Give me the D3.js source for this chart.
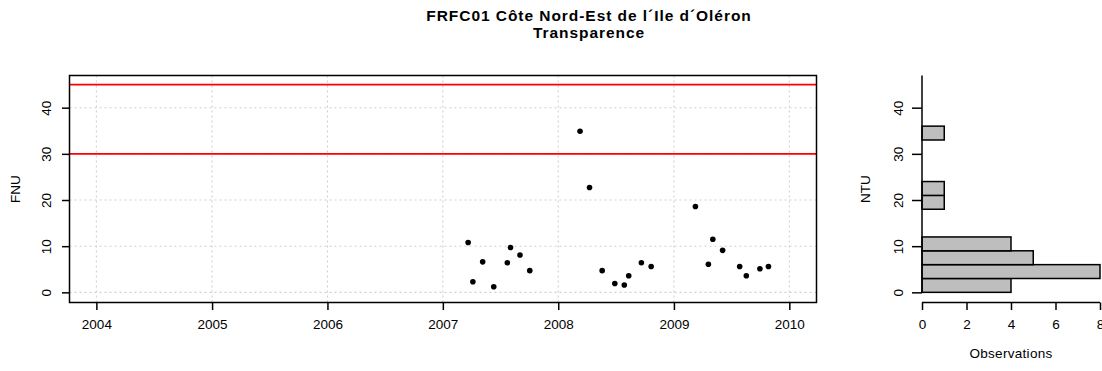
<!DOCTYPE html>
<html>
<head>
<meta charset="utf-8">
<script src="https://cdn.jsdelivr.net/npm/d3@7"></script>
<style>
  html, body { margin: 0; padding: 0; background: #fff; }
  svg { display: block; font-family: "Liberation Sans", Arial, Helvetica, sans-serif; }
</style>
</head>
<body>
<svg id="chart" width="1102" height="371"></svg>
<script>
// Turbidity samples (FNU) at FRFC01
const sampleDates = [
  "2007-03-22", "2007-04-06", "2007-05-07", "2007-06-11", "2007-07-24", "2007-08-03",
  "2007-09-02", "2007-10-03", "2008-03-10", "2008-04-09", "2008-05-19", "2008-06-28",
  "2008-07-28", "2008-08-11", "2008-09-20", "2008-10-21", "2009-03-10", "2009-04-20",
  "2009-05-04", "2009-06-04", "2009-07-28", "2009-08-18", "2009-09-30", "2009-10-27"
];
const sampleValues = [
  10.8, 2.3, 6.6, 1.2, 6.4, 9.7,
  8.1, 4.7, 34.9, 22.7, 4.7, 1.9,
  1.6, 3.6, 6.4, 5.6, 18.6, 6.1,
  11.5, 9.1, 5.6, 3.6, 5.1, 5.6
];
// Quality thresholds
const thresholdValues = [30, 45];
// Axis ticks
const yTickValues = [0, 10, 20, 30, 40];
const xTickYears = [2004, 2005, 2006, 2007, 2008, 2009, 2010];
const histTickValues = [0, 2, 4, 6, 8];
const histBinWidth = 3;

const titleLines = ["FRFC01 Côte Nord-Est de l´Ile d´Oléron", "Transparence"];

const svg = d3.select("#chart");
const parse = d3.utcParse("%Y-%m-%d");
const points = sampleDates.map((d, i) => ({ date: parse(d), value: sampleValues[i] }));

// Main panel geometry
const P = { left: 69.5, right: 816.5, top: 75.5, bottom: 302.5 };
const x = d3.scaleUtc()
  .domain([new Date(Date.UTC(2003, 9, 8)), new Date(Date.UTC(2010, 2, 28))])
  .range([P.left, P.right]);
const y = d3.scaleLinear().domain([-2.2, 46.97]).range([P.bottom, P.top]);

// Histogram panel geometry
const H = { left: 922, right: 1100 };
const hx = d3.scaleLinear().domain([0, 8]).range([H.left, H.right]);

const axisFont = 13.5;
const gridColor = "#d0d0d0";

// Title
svg.append("g").selectAll("text").data(titleLines).join("text")
  .attr("x", 589)
  .attr("y", (d, i) => 21 + i * 17)
  .attr("text-anchor", "middle")
  .attr("font-weight", "bold")
  .attr("font-size", 15.5)
  .attr("letter-spacing", 0.95)
  .text(d => d);

// ---- Main time series panel ----
const main = svg.append("g");

// dotted grid
main.append("g").selectAll("line").data(xTickYears).join("line")
  .attr("x1", d => x(new Date(Date.UTC(d, 0, 1)))).attr("x2", d => x(new Date(Date.UTC(d, 0, 1))))
  .attr("y1", P.top).attr("y2", P.bottom)
  .attr("stroke", gridColor).attr("stroke-width", 1.1).attr("stroke-dasharray", "2,3");
main.append("g").selectAll("line").data(yTickValues).join("line")
  .attr("x1", P.left).attr("x2", P.right)
  .attr("y1", d => y(d)).attr("y2", d => y(d))
  .attr("stroke", gridColor).attr("stroke-width", 1.1).attr("stroke-dasharray", "2,3");

// threshold lines
main.append("g").selectAll("line").data(thresholdValues).join("line")
  .attr("x1", P.left).attr("x2", P.right)
  .attr("y1", d => y(d)).attr("y2", d => y(d))
  .attr("stroke", "#ff0000").attr("stroke-width", 1.6);

// samples
main.append("g").selectAll("circle").data(points).join("circle")
  .attr("cx", d => x(d.date)).attr("cy", d => y(d.value))
  .attr("r", 2.8).attr("fill", "#000");

// frame
main.append("rect")
  .attr("x", P.left).attr("y", P.top)
  .attr("width", P.right - P.left).attr("height", P.bottom - P.top)
  .attr("fill", "none").attr("stroke", "#000").attr("stroke-width", 1.5);

// x axis
const xAxis = d3.axisBottom(x)
  .tickValues(xTickYears.map(d => new Date(Date.UTC(d, 0, 1))))
  .tickFormat(d3.utcFormat("%Y"))
  .tickSizeInner(7.5).tickSizeOuter(0).tickPadding(9);
const gx = main.append("g").attr("transform", `translate(0,${P.bottom})`).call(xAxis);
gx.select(".domain").remove();
gx.selectAll(".tick line").attr("stroke", "#000").attr("stroke-width", 1.5);
gx.selectAll(".tick text").attr("font-size", axisFont).attr("font-family", null).attr("fill", "#000");

// y axis
const yAxis = d3.axisLeft(y).tickValues(yTickValues).tickSizeInner(7.5).tickSizeOuter(0).tickFormat(d3.format("d"));
const gy = main.append("g").attr("transform", `translate(${P.left},0)`).call(yAxis);
gy.select(".domain").remove();
gy.selectAll(".tick line").attr("stroke", "#000").attr("stroke-width", 1.5);
gy.selectAll(".tick text")
  .attr("font-size", axisFont).attr("font-family", null).attr("fill", "#000")
  .attr("x", null).attr("dy", null)
  .attr("text-anchor", "middle")
  .attr("transform", "translate(-18.5,0) rotate(-90)");

main.append("text")
  .attr("transform", `translate(20,${(P.top + P.bottom) / 2}) rotate(-90)`)
  .attr("text-anchor", "middle").attr("font-size", axisFont)
  .text("FNU");

// ---- Histogram panel ----
const hist = svg.append("g");
const bins = d3.bin()
  .domain([0, 48])
  .thresholds(d3.range(0, 48, histBinWidth))(sampleValues);

hist.append("g").selectAll("rect").data(bins.filter(b => b.length > 0)).join("rect")
  .attr("x", hx(0))
  .attr("y", d => y(d.x1))
  .attr("width", d => hx(d.length) - hx(0))
  .attr("height", d => y(d.x0) - y(d.x1))
  .attr("fill", "#bebebe").attr("stroke", "#000").attr("stroke-width", 1.5);

// baseline of the bars
hist.append("line")
  .attr("x1", hx(0)).attr("x2", hx(0))
  .attr("y1", y(0)).attr("y2", P.top)
  .attr("stroke", "#000").attr("stroke-width", 1.5);

const hyAxis = d3.axisLeft(y).tickValues(yTickValues).tickSizeInner(10).tickSizeOuter(0).tickFormat(d3.format("d"));
const ghy = hist.append("g").attr("transform", `translate(${hx(0)},0)`).call(hyAxis);
ghy.select(".domain").remove();
ghy.selectAll(".tick line").attr("stroke", "#000").attr("stroke-width", 1.5);
ghy.selectAll(".tick text")
  .attr("font-size", axisFont).attr("font-family", null).attr("fill", "#000")
  .attr("x", null).attr("dy", null)
  .attr("text-anchor", "middle")
  .attr("transform", "translate(-19,0) rotate(-90)");

const hxAxis = d3.axisBottom(hx).tickValues(histTickValues).tickSizeInner(7.5).tickSizeOuter(0).tickPadding(9);
const ghx = hist.append("g").attr("transform", `translate(0,${P.bottom})`).call(hxAxis);
ghx.select(".domain").attr("stroke", "#000").attr("stroke-width", 1.5)
  .attr("d", `M${hx(0)},0H${hx(8)}`);
ghx.selectAll(".tick line").attr("stroke", "#000").attr("stroke-width", 1.5);
ghx.selectAll(".tick text").attr("font-size", axisFont).attr("font-family", null).attr("fill", "#000");

hist.append("text")
  .attr("transform", `translate(870,${(P.top + P.bottom) / 2}) rotate(-90)`)
  .attr("text-anchor", "middle").attr("font-size", axisFont)
  .text("NTU");

hist.append("text")
  .attr("x", (hx(0) + hx(8)) / 2).attr("y", 358)
  .attr("text-anchor", "middle").attr("font-size", axisFont)
  .attr("letter-spacing", 0.3)
  .text("Observations");
</script>
</body>
</html>
